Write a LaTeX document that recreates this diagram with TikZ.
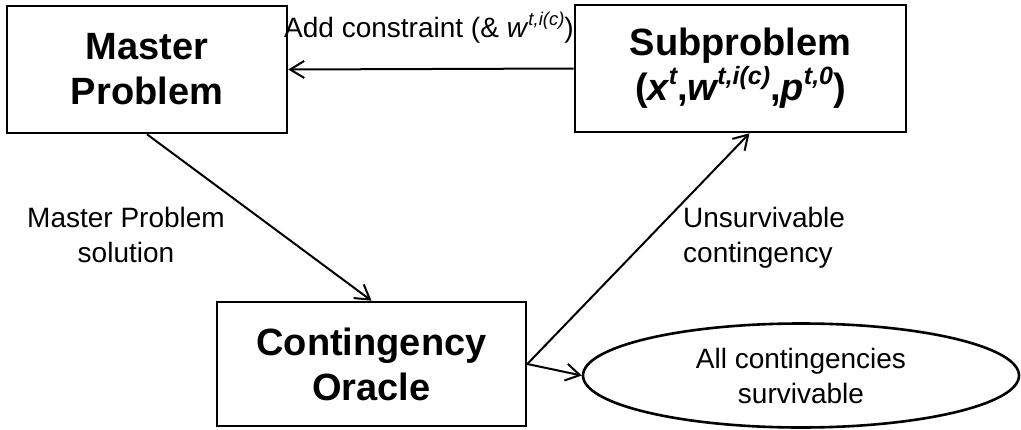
\documentclass[tikz,border=0pt]{standalone}
\usepackage{fontspec}
\setmainfont{Liberation Sans}
\usetikzlibrary{arrows.meta,shapes.geometric}
\newcommand\bigsup[1]{\raisebox{0.42em}{\fontsize{25}{25}\selectfont #1}}
\newcommand\smallsup[1]{\raisebox{0.42em}{\fontsize{18.5}{18.5}\selectfont #1}}
\tikzset{
  box/.style={draw, line width=2.6pt, inner sep=0pt, align=center,
    font=\fontsize{38}{45}\selectfont\bfseries},
  oval/.style={draw, ellipse, line width=2.6pt, inner sep=0pt, align=center,
    font=\fontsize{28}{35}\selectfont},
  lbl/.style={inner sep=0pt, font=\fontsize{28}{35}\selectfont},
  arr/.style={line width=2pt, -{Straight Barb[length=14pt,width=17pt]}}
}
\begin{document}
\begin{tikzpicture}[x=1pt,y=-1pt]
\useasboundingbox (0,0) rectangle (1021,429);
\node[box, minimum width=280pt, minimum height=127pt] (m) at (147,69.5) {Master\\Problem};
\node[box, minimum width=331pt, minimum height=127pt] (s) at (740.5,68.5)
  {Subproblem\\(\textit{x\bigsup{t}},\textit{w\bigsup{t,i(c)}},\textit{p\bigsup{t,0}})};
\node[box, minimum width=309pt, minimum height=124pt] (c) at (371.5,364) {Contingency\\Oracle};
\node[oval, minimum width=436pt, minimum height=104pt] (e) at (801,375.5) {All contingencies\\survivable};
\node[lbl, anchor=base] (l1) at (429,37) {Add constraint (\& \textit{w}\smallsup{\textit{t,i(c)}})};
\node[lbl, anchor=base, align=center] (l2) at (126,262) {Master Problem\\solution};
\node[lbl, anchor=base west, align=left] (l3) at (683,262) {Unsurvivable\\contingency};
\draw[arr] (s.west) -- (m.east);
\draw[arr] (m.south) -- (c.north);
\draw[arr] (c.east) -- ([xshift=9pt]s.south);
\draw[arr] (c.east) -- (e.west);
\end{tikzpicture}
\end{document}
